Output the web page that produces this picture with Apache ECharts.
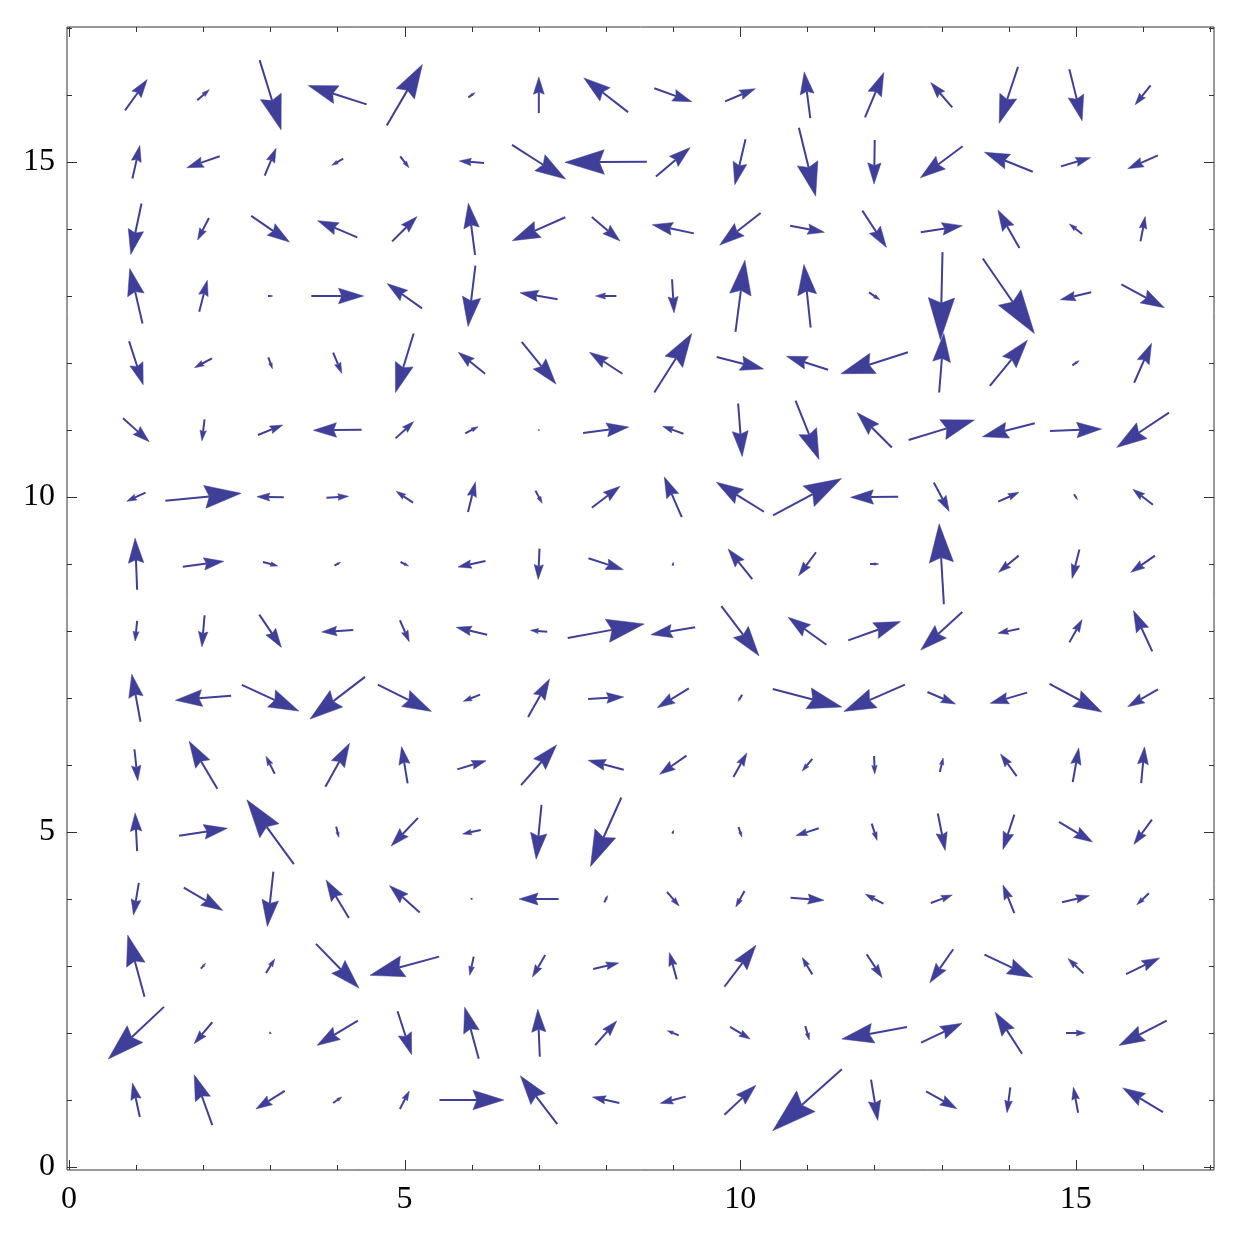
<!DOCTYPE html>
<html>
<head>
<meta charset="utf-8">
<script src="https://cdn.jsdelivr.net/npm/echarts@6/dist/echarts.min.js"></script>
<style>html,body{margin:0;padding:0;background:#fff}#c{width:1250px;height:1250px}</style>
</head>
<body>
<div id="c"></div>
<script>
// Grid positions (columns x and rows y)
const xs = [1,2,3,4,5,6,7,8,9,10,11,12,13,14,15,16];
const ys = [1,2,3,4,5,6,7,8,9,10,11,12,13,14,15,16];
// Vector components: U[row][col], V[row][col]; row 0 is y=1
const U = [
 [-0.11,-0.27,-0.43,0.13,0.14,0.96,-0.55,-0.40,-0.38,0.47,-1.03,0.10,0.46,-0.05,-0.07,-0.60],
 [-0.83,-0.27,0.03,-0.61,0.21,-0.21,-0.03,0.32,-0.17,0.30,0.06,-0.97,0.61,-0.40,0.29,-0.71],
 [-0.25,0.07,0.13,0.64,-1.03,-0.06,-0.19,0.38,-0.11,0.47,-0.15,0.23,-0.35,0.72,-0.23,0.50],
 [-0.08,0.58,-0.09,-0.34,-0.45,0.01,-0.59,0.05,0.18,-0.13,0.50,-0.27,0.32,-0.17,0.41,-0.18],
 [-0.03,0.72,-0.70,0.04,-0.40,-0.27,-0.08,-0.46,0.02,0.05,-0.34,0.08,0.11,-0.17,0.50,-0.27],
 [0.05,-0.42,-0.13,0.36,-0.09,0.43,0.53,-0.53,-0.40,0.20,-0.15,0.01,0.05,-0.24,0.09,0.05],
 [-0.13,-0.83,0.85,-0.82,0.80,-0.25,0.32,0.53,-0.47,-0.06,1.03,-0.91,0.42,-0.55,0.78,-0.45],
 [-0.03,-0.04,0.33,-0.47,0.14,-0.46,-0.25,1.14,-0.66,0.56,-0.57,0.78,-0.62,-0.32,0.19,-0.28],
 [-0.03,0.61,0.22,0.09,0.12,-0.41,-0.02,0.52,0.01,-0.36,-0.26,0.13,-0.07,-0.30,-0.11,-0.36],
 [-0.28,1.13,-0.40,0.33,-0.25,0.11,0.10,0.42,-0.26,-0.71,1.02,-0.71,0.23,0.31,0.05,-0.30],
 [0.39,-0.04,0.37,-0.72,0.27,0.19,0.01,0.68,-0.31,0.06,0.35,-0.52,0.98,-0.78,0.77,-0.78],
 [0.21,-0.26,0.06,0.13,-0.27,-0.40,0.51,-0.49,0.56,0.70,-0.62,-1.00,0.07,0.56,0.10,0.26],
 [-0.19,0.12,0.07,0.78,-0.52,-0.11,-0.56,-0.31,0.03,0.14,-0.10,0.16,-0.03,0.77,-0.46,0.64],
 [-0.16,-0.17,0.57,-0.59,0.37,-0.10,-0.79,0.42,-0.62,-0.61,0.51,0.36,0.62,-0.32,-0.19,0.07],
 [0.11,-0.49,0.17,-0.17,0.13,-0.37,0.80,-1.22,0.51,-0.16,0.25,-0.01,-0.63,-0.72,0.44,-0.45],
 [0.33,0.18,0.32,-0.87,0.53,0.10,0.00,-0.66,0.56,0.45,-0.09,0.28,-0.32,-0.28,0.19,-0.23]
];
const V = [
 [0.51,0.75,-0.27,0.09,0.27,0.00,0.72,0.09,-0.10,0.44,-0.92,-0.61,-0.26,-0.38,0.38,0.36],
 [-0.78,-0.32,-0.02,-0.37,-0.65,0.77,0.71,0.36,0.07,-0.18,-0.21,-0.18,0.29,0.62,0.00,-0.37],
 [0.92,0.08,0.21,-0.66,-0.28,-0.28,-0.33,0.09,0.40,0.62,0.25,-0.35,-0.50,-0.34,0.22,0.24],
 [-0.48,-0.34,-0.82,0.57,0.40,-0.03,0.00,0.10,-0.21,-0.24,-0.04,0.14,0.12,0.42,0.10,-0.17],
 [0.57,0.11,0.96,-0.16,-0.42,-0.06,-0.81,-1.03,0.05,-0.15,-0.11,-0.25,-0.55,-0.52,-0.30,-0.37],
 [-0.47,0.71,0.26,0.65,0.55,0.13,0.60,0.14,-0.28,0.36,-0.18,-0.27,0.21,0.33,0.51,0.54],
 [0.71,-0.07,-0.39,-0.63,-0.40,-0.10,0.57,0.03,-0.29,-0.10,-0.27,-0.40,-0.18,-0.16,-0.42,-0.26],
 [-0.30,-0.47,-0.49,-0.03,-0.32,0.11,0.02,0.21,-0.11,-0.74,0.41,0.28,-0.57,-0.07,0.34,0.61],
 [0.77,0.08,-0.06,0.05,-0.06,-0.09,-0.46,-0.17,0.05,0.45,-0.35,0.00,1.20,-0.25,-0.43,-0.25],
 [-0.13,0.11,0.01,0.02,0.17,0.45,-0.19,0.32,0.60,0.44,0.55,-0.01,-0.43,0.14,-0.08,0.23],
 [-0.35,-0.32,0.15,-0.01,0.25,0.10,0.02,0.09,0.11,-0.79,-0.88,0.52,0.30,-0.20,0.03,-0.52],
 [-0.65,-0.14,-0.17,-0.31,-0.88,0.32,-0.63,0.32,0.88,-0.18,0.20,-0.32,0.88,0.68,0.07,0.59],
 [0.82,0.47,0.00,0.00,0.37,-0.91,0.10,0.00,-0.50,1.07,0.94,-0.11,-1.31,-1.12,-0.11,-0.35],
 [-0.76,-0.33,-0.39,0.25,0.37,0.77,-0.35,-0.36,0.13,-0.48,-0.10,-0.55,0.10,0.57,0.15,0.37],
 [0.49,-0.17,0.41,-0.10,-0.17,0.03,-0.51,-0.01,0.43,-0.68,-1.02,-0.66,-0.47,0.29,0.13,-0.20],
 [0.46,0.16,-1.04,0.28,0.91,0.07,0.54,0.51,-0.20,0.19,0.69,0.67,0.37,-0.84,-0.77,-0.29]
];
// Tick labels / tick positions
const majorTicks = [0, 5, 10, 15];
const minorTicks = [1,2,3,4,6,7,8,9,11,12,13,14,16,17];
const xRange = [-0.03, 17.06];
const yRange = [-0.045, 17.015];

const COLOR = '#3f3f99';
const FRAME = '#333';
const data = [];
ys.forEach((y, r) => xs.forEach((x, c) => data.push([x, y, U[r][c], V[r][c]])));

// tick records: [value, dim (0 = x, 1 = y), major (1/0)]
const tickData = [];
[0, 1].forEach(d => {
  majorTicks.forEach(t => tickData.push([t, d, 1]));
  minorTicks.forEach(t => tickData.push([t, d, 0]));
});

function renderArrow(params, api) {
  const x = api.value(0), y = api.value(1), u = api.value(2), v = api.value(3);
  const p0 = api.coord([x - u / 2, y - v / 2]);
  const p1 = api.coord([x + u / 2, y + v / 2]);
  const dx = p1[0] - p0[0], dy = p1[1] - p0[1];
  const L = Math.hypot(dx, dy);
  if (L < 0.3) return null;
  const ux = dx / L, uy = dy / L, nx = -uy, ny = ux;
  const hl = 0.48 * L, hw = 0.15 * L, hn = 0.42 * L;
  const bx = p1[0] - ux * hl, by = p1[1] - uy * hl;
  const qx = p1[0] - ux * hn, qy = p1[1] - uy * hn;
  return {
    type: 'group',
    children: [
      { type: 'line', shape: { x1: p0[0], y1: p0[1], x2: qx, y2: qy },
        style: { stroke: COLOR, lineWidth: 2 } },
      { type: 'polygon', shape: { points: [[p1[0], p1[1]], [bx + nx * hw, by + ny * hw], [qx, qy], [bx - nx * hw, by - ny * hw]] },
        style: { fill: COLOR, stroke: COLOR, lineWidth: 0.5 } }
    ]
  };
}

function renderTick(params, api) {
  const t = api.value(0), d = api.value(1), major = api.value(2);
  const len = major ? 10 : 5;
  const st = { stroke: FRAME, lineWidth: 1 };
  if (d === 0) {
    const b = api.coord([t, yRange[0]]), tp = api.coord([t, yRange[1]]);
    const x = Math.round(b[0]) + 0.5;
    return { type: 'group', children: [
      { type: 'line', shape: { x1: x, y1: b[1], x2: x, y2: b[1] - len }, style: st },
      { type: 'line', shape: { x1: x, y1: tp[1], x2: x, y2: tp[1] + len }, style: st }
    ] };
  } else {
    const l = api.coord([xRange[0], t]), r = api.coord([xRange[1], t]);
    const y = Math.round(l[1]) + 0.5;
    return { type: 'group', children: [
      { type: 'line', shape: { x1: l[0], y1: y, x2: l[0] + len, y2: y }, style: st },
      { type: 'line', shape: { x1: r[0], y1: y, x2: r[0] - len, y2: y }, style: st }
    ] };
  }
}

const font = { fontFamily: 'Liberation Serif', fontSize: 32, color: '#000' };

const chart = echarts.init(document.getElementById('c'), null, { renderer: 'canvas' });
chart.setOption({
  animation: false,
  backgroundColor: '#fff',
  grid: { left: 67, top: 27, width: 1147, height: 1143, show: true, borderColor: FRAME, borderWidth: 1, backgroundColor: 'transparent' },
  xAxis: {
    type: 'value', position: 'bottom', min: xRange[0], max: xRange[1],
    axisLine: { show: false }, axisTick: { show: false }, splitLine: { show: false },
    axisLabel: Object.assign({ customValues: majorTicks, margin: 14 }, font)
  },
  yAxis: {
    type: 'value', position: 'left', min: yRange[0], max: yRange[1],
    axisLine: { show: false }, axisTick: { show: false }, splitLine: { show: false },
    axisLabel: Object.assign({ customValues: majorTicks, margin: 12 }, font)
  },
  series: [
    { type: 'custom', name: 'ticks', renderItem: renderTick, data: tickData, clip: false,
      encode: { x: -1, y: -1 }, silent: true },
    { type: 'custom', name: 'vectors', renderItem: renderArrow, data: data, clip: false,
      encode: { x: 0, y: 1 } }
  ]
});
</script>
</body>
</html>
